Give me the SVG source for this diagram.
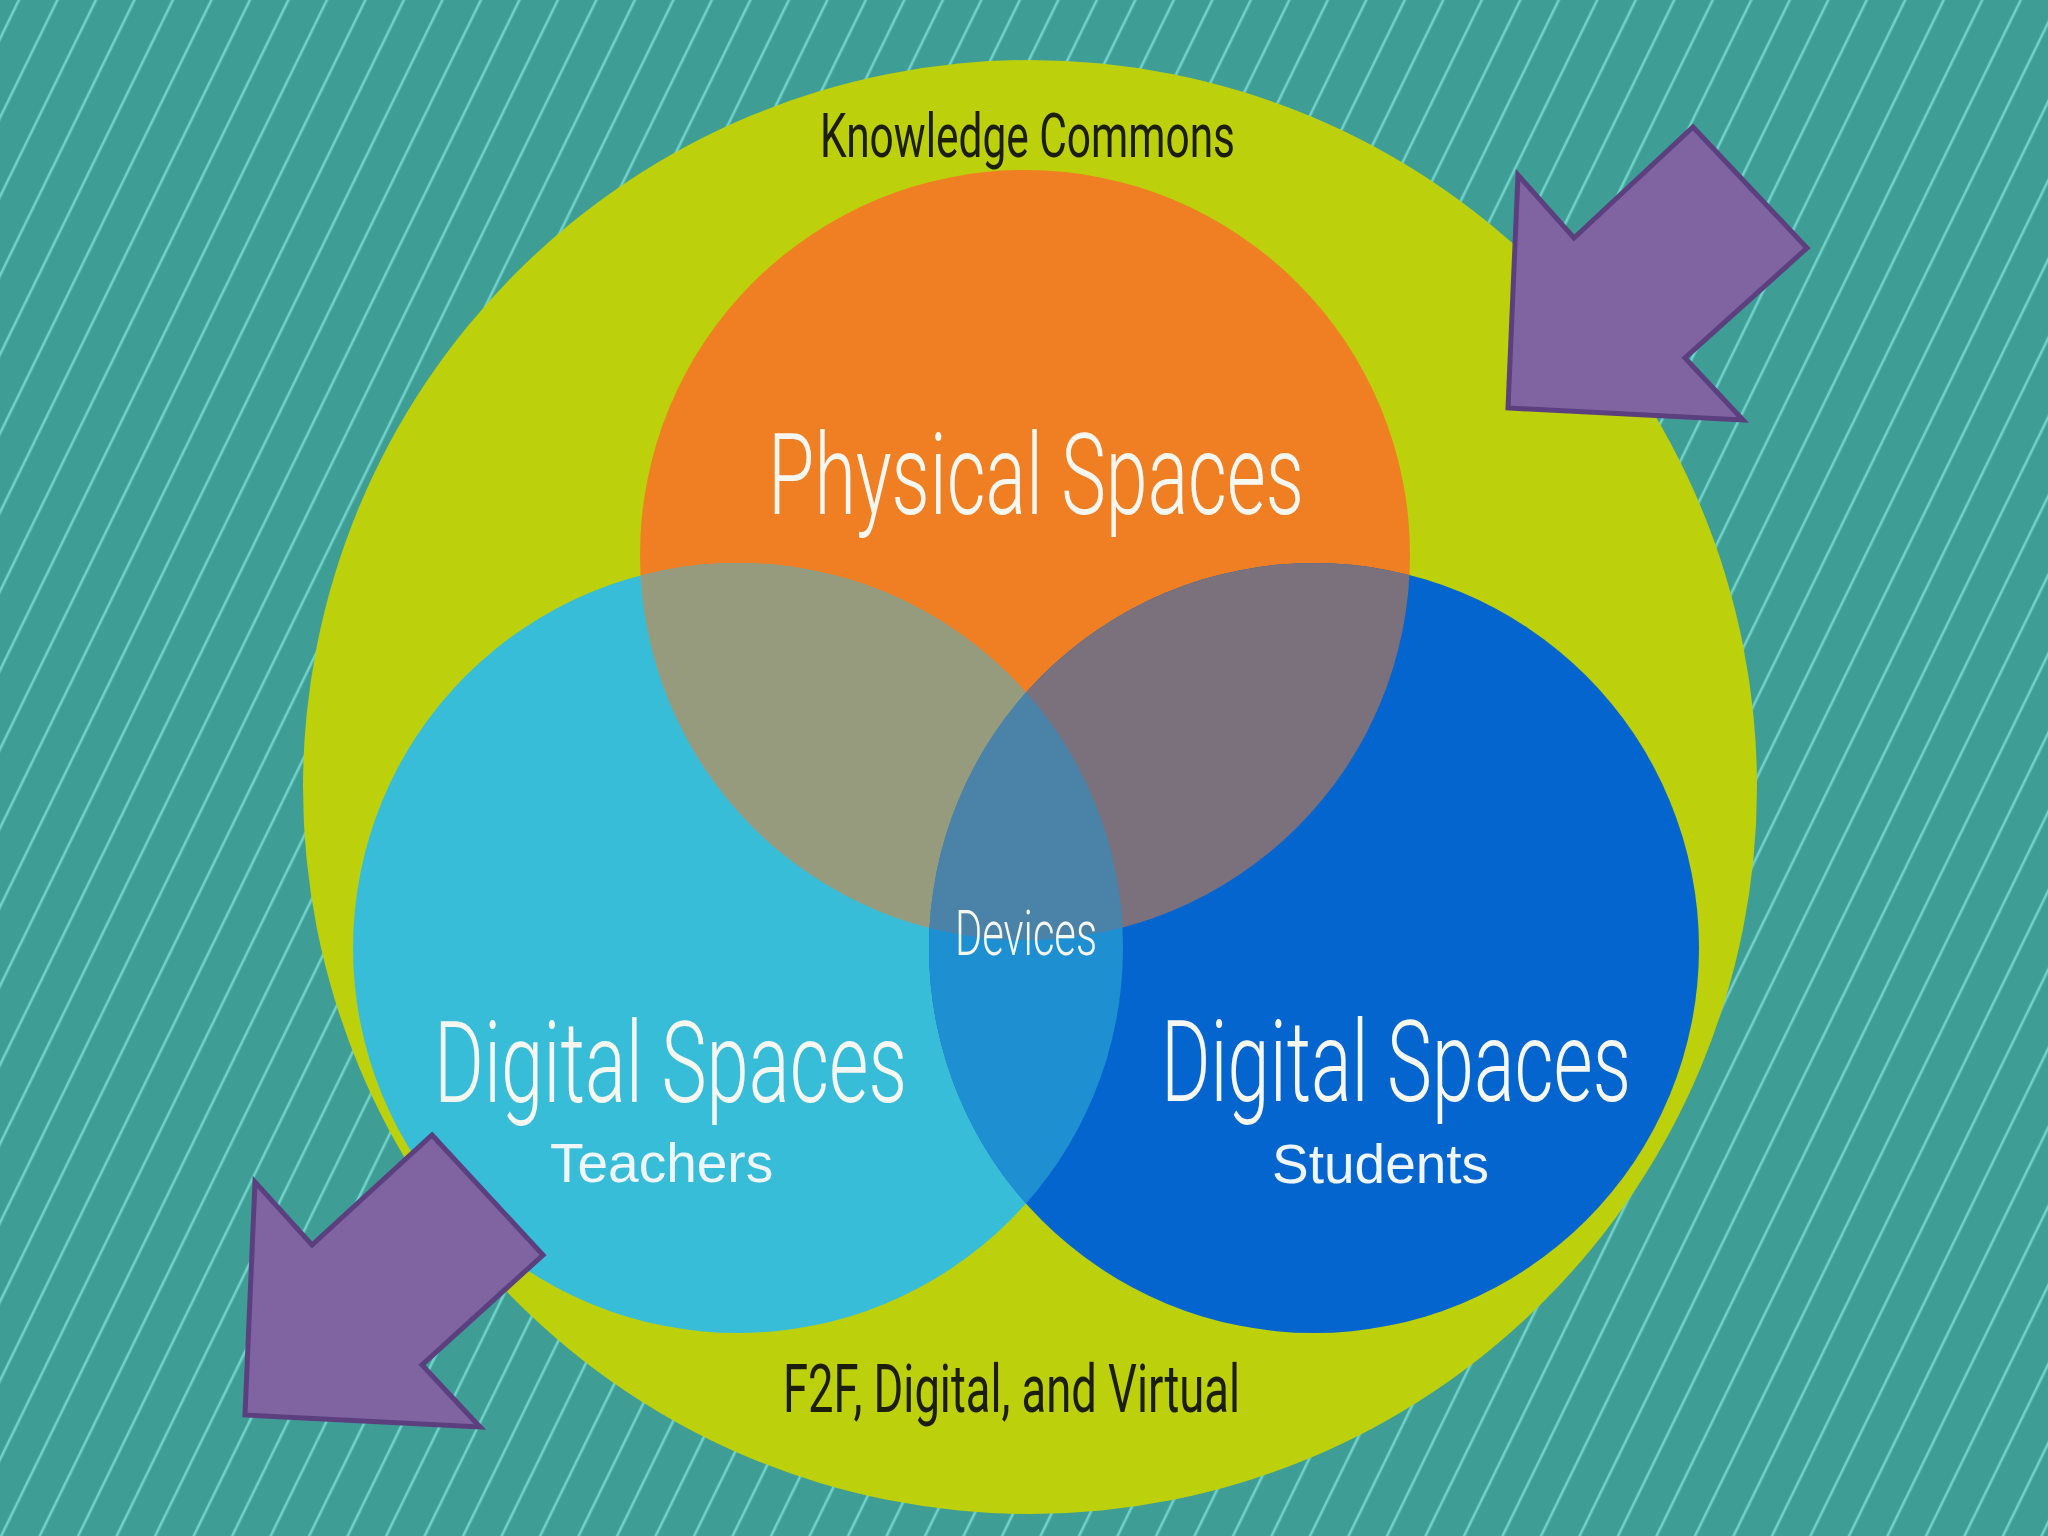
<svg xmlns="http://www.w3.org/2000/svg" width="2048" height="1536" viewBox="0 0 2048 1536">
  <defs>
    <pattern id="stripes" patternUnits="userSpaceOnUse" width="34.6" height="20" patternTransform="rotate(26)">
      <line x1="17" y1="-2" x2="17" y2="22" stroke="#70d2ca" stroke-width="2.6"/>
    </pattern>
    <clipPath id="clipOrange"><circle cx="1025" cy="555" r="385"/></clipPath>
    <clipPath id="clipLight"><circle cx="738" cy="948" r="385"/></clipPath>
    <style>
      .big { font-family: Roboto, "Liberation Sans", sans-serif; font-weight: 300; fill: #f6f7f1; }
      .dark { font-family: Roboto, "Liberation Sans", sans-serif; font-weight: 400; fill: #1c1e0c; }
      .sub { font-family: "Liberation Sans", Arial, sans-serif; fill: #eef6fa; font-size: 55px; }
      .arrow { fill: #8064a2; stroke: #5c3f7f; stroke-width: 5; stroke-linejoin: miter; }
    </style>
  </defs>

  <g id="background">
    <rect width="2048" height="1536" fill="#3e9e96"/>
    <rect width="2048" height="1536" fill="url(#stripes)"/>
  </g>

  <g id="knowledge-commons">
    <circle cx="1030" cy="787" r="727" fill="#bcd00b"/>
    <text class="dark" x="820" y="157" font-size="62" textLength="415" lengthAdjust="spacingAndGlyphs">Knowledge Commons</text>
    <text class="dark" x="783" y="1412" font-size="66" textLength="457" lengthAdjust="spacingAndGlyphs">F2F, Digital, and Virtual</text>
  </g>

  <g id="physical-spaces">
    <circle cx="1025" cy="555" r="385" fill="#f07f23"/>
  </g>
  <g id="digital-spaces-teachers">
    <circle cx="738" cy="948" r="385" fill="#38bdd8"/>
  </g>
  <g id="digital-spaces-students">
    <circle cx="1314" cy="948" r="385" fill="#0565cf"/>
  </g>

  <g id="overlaps">
    <circle cx="738" cy="948" r="385" fill="#969b7e" clip-path="url(#clipOrange)"/>
    <circle cx="1314" cy="948" r="385" fill="#7a717c" clip-path="url(#clipOrange)"/>
    <circle cx="1314" cy="948" r="385" fill="#1e90d2" clip-path="url(#clipLight)"/>
    <g clip-path="url(#clipOrange)">
      <circle cx="1314" cy="948" r="385" fill="#4b83a8" clip-path="url(#clipLight)"/>
    </g>
  </g>

  <g id="labels">
    <text class="big" x="768" y="514" font-size="113" textLength="536" lengthAdjust="spacingAndGlyphs">Physical Spaces</text>
    <text class="big" x="434" y="1102" font-size="114" textLength="473" lengthAdjust="spacingAndGlyphs">Digital Spaces</text>
    <text class="sub" x="550" y="1182">Teachers</text>
    <text class="big" x="1161" y="1101" font-size="114" textLength="470" lengthAdjust="spacingAndGlyphs">Digital Spaces</text>
    <text class="sub" x="1272" y="1183">Students</text>
    <text class="big" x="955" y="955" font-size="63" textLength="142" lengthAdjust="spacingAndGlyphs">Devices</text>
  </g>

  <g id="arrows">
    <polygon class="arrow" points="1693,127 1807,248 1685,358 1743,420 1508,408 1518,175 1574,238"/>
    <polygon class="arrow" points="432,1135 543,1255 422,1365 480,1427 245,1415 255,1182 312,1245"/>
  </g>
</svg>
